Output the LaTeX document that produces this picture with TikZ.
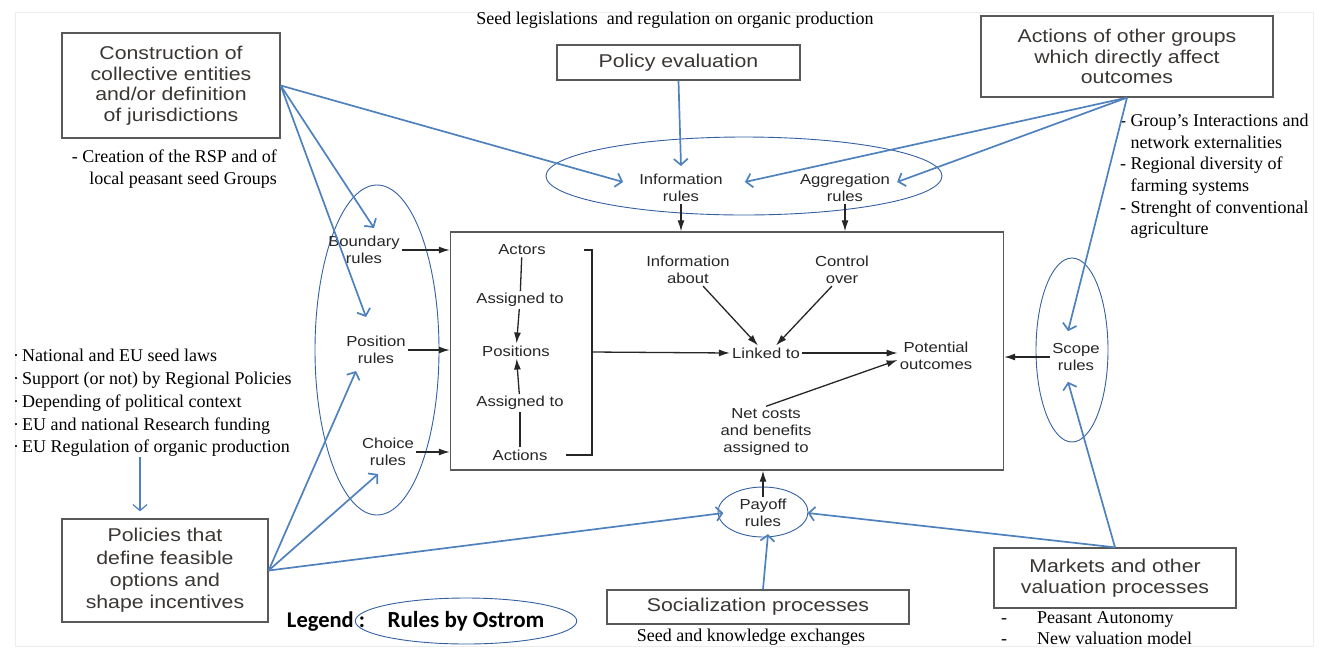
\documentclass[tikz,border=0pt]{standalone}
\usepackage{fontspec}
\setmainfont{Liberation Serif}
\newfontfamily\helv[FakeStretch=1.15]{Liberation Sans}
\newfontfamily\calib{Carlito}
\usetikzlibrary{arrows.meta,shapes.geometric}

\definecolor{arrblue}{RGB}{79,129,189}
\definecolor{ellblue}{RGB}{52,96,160}
\definecolor{boxtext}{RGB}{58,54,52}

\tikzset{
  procbox/.style={draw=black!65, line width=1.3pt, align=center, inner sep=0pt,
    text=boxtext, font=\helv\fontsize{18.5}{20.5}\selectfont},
  rulelbl/.style={align=center, inner sep=2pt, text=black!85,
    font=\helv\fontsize{14.5}{17}\selectfont},
  rulering/.style={draw=ellblue, line width=0.9pt, ellipse, inner sep=0pt},
  note/.style={inner sep=0pt, font=\fontsize{18}{21.6}\selectfont},
  bluearr/.style={draw=arrblue, line width=1.7pt, -{Straight Barb[length=6pt,width=14pt]}},
  blkarr/.style={draw=black!85, line width=1.3pt, -{Latex[length=11pt,width=7pt]}},
  blkline/.style={draw=black!85, line width=1.3pt},
}

\begin{document}
\begin{tikzpicture}[x=1pt,y=-1pt]
  \useasboundingbox (0,0) rectangle (1328,649);
  \draw[black!7, line width=1pt] (15,12) rectangle (1313,646);

  % boxes round the action arena
  \node[procbox, minimum width=218pt, minimum height=105pt] (construct) at (171,85.5)
    {Construction of\\collective entities\\and/or definition\\of jurisdictions};
  \node[procbox, minimum width=243pt, minimum height=35pt] (poleval) at (678.5,62.5) {Policy evaluation};
  \node[procbox, minimum width=292pt, minimum height=81pt] (othergroups) at (1127,56.5)
    {Actions of other groups\\which directly affect\\outcomes};
  \node[procbox, minimum width=206pt, minimum height=103pt, font=\helv\fontsize{18.5}{22.3}\selectfont] (policies) at (165,570.5)
    {Policies that\\define feasible\\options and\\shape incentives};
  \node[procbox, minimum width=302pt, minimum height=34pt] (social) at (758,607) {Socialization processes};
  \node[procbox, minimum width=242pt, minimum height=60pt] (markets) at (1115,578)
    {Markets and other\\valuation processes};

  % notes
  \node[note] (toptxt) at (675,20) {Seed legislations\ \ and regulation\ on organic production};
  \node[note, anchor=north east, align=right] (creation) at (277,150)
    {- Creation of the RSP and of\\local peasant seed Groups};
  \node[note, anchor=north west, align=left] (groupnote) at (1120,114)
    {- Group’s Interactions and\\\hphantom{- }network externalities\\- Regional diversity\ of\\\hphantom{- }farming systems\\- Strenght of conventional\\\hphantom{- }agriculture};
  \node[note, anchor=north west, align=left, font=\fontsize{18}{22.8}\selectfont] (laws) at (13,349)
    {\makebox[9pt][l]{·}National and EU seed laws\\\makebox[9pt][l]{·}Support (or not) by Regional\ Policies\\\makebox[9pt][l]{·}Depending\ of political\ context\\\makebox[9pt][l]{·}EU and national\ Research funding\\\makebox[9pt][l]{·}EU Regulation\ of organic production};
  \node[note] (exch) at (751,637) {Seed and knowledge\ exchanges};
  \node[note, anchor=north west, align=left] (valnote) at (1001,611)
    {\makebox[36pt][l]{-}Peasant Autonomy\\\makebox[36pt][l]{-}New valuation model};

  % action arena
  \node[draw=black!65, line width=1.4pt, minimum width=553pt, minimum height=238pt] (arena) at (727,351) {};
  \node[rulelbl] (actors) at (522,250) {Actors};
  \node[rulelbl] (asgA) at (520,300) {Assigned to};
  \node[rulelbl] (positions) at (516,351) {Positions};
  \node[rulelbl] (asgB) at (520,403) {Assigned to};
  \node[rulelbl] (actions) at (520,455) {Actions};
  \node[rulelbl] (infoabout) at (688,270) {Information\\about};
  \node[rulelbl] (control) at (842,270) {Control\\over};
  \node[rulelbl] (linked) at (766,353) {Linked to};
  \node[rulelbl] (potential) at (936,356) {Potential\\outcomes};
  \node[rulelbl] (netcost) at (766,432) {Net costs\\and benefits\\assigned to};

  \draw[blkline] (actors) -- (asgA);
  \draw[blkarr] (asgA) -- (positions);
  \draw[blkline] (actions) -- (asgB);
  \draw[blkarr] (asgB) -- (positions);
  \draw[blkline] ([xshift=36pt]actors.east) -| (592,455) -- ([xshift=16pt]actions.east);
  \draw[blkarr] (592,352) -- (linked.west);
  \draw[blkarr] ([xshift=15pt]infoabout.south) -- ([xshift=-8pt]linked.north);
  \draw[blkarr] ([xshift=-10pt]control.south) -- ([xshift=10pt]linked.north);
  \draw[blkarr] (linked.east) -- (potential.west |- linked.east);
  \draw[blkarr] (netcost.north) -- ([yshift=-4pt]potential.west);

  % rules by Ostrom
  \node[rulering, minimum width=396pt, minimum height=78pt] (topring) at (744,176) {};
  \node[rulering, minimum width=124pt, minimum height=330pt] (leftring) at (377,350) {};
  \node[rulering, minimum width=72pt, minimum height=184pt] (scopering) at (1072,350) {};
  \node[rulering, minimum width=90pt, minimum height=50pt] (payring) at (763,512) {};
  \node[rulelbl] (info) at (681,188) {Information\\rules};
  \node[rulelbl] (aggr) at (845,188) {Aggregation\\rules};
  \node[rulelbl] (boundary) at (364,250) {Boundary\\rules};
  \node[rulelbl] (position) at (376,350) {Position\\rules};
  \node[rulelbl] (choice) at (388,452) {Choice\\rules};
  \node[rulelbl] (scope) at (1076,357) {Scope\\rules};
  \node[rulelbl] (payoff) at (763,513) {Payoff\\rules};

  \draw[blkarr] (info.south) -- (info.south |- arena.north);
  \draw[blkarr] (aggr.south) -- (aggr.south |- arena.north);
  \draw[blkarr] (boundary.east) -- (boundary.east -| arena.west);
  \draw[blkarr] (position.east) -- (position.east -| arena.west);
  \draw[blkarr] (choice.east) -- (choice.east -| arena.west);
  \draw[blkarr] (scope.west) -- (scope.west -| arena.east);
  \draw[blkarr] (payoff.north) -- (payoff.north |- arena.south);

  % influences
  \draw[bluearr] (construct.east) -- ([xshift=-14pt,yshift=6pt]info.west);
  \draw[bluearr] (construct.east) -- ([xshift=10pt,yshift=6pt]boundary.north);
  \draw[bluearr] (construct.east) -- ([xshift=-10pt,yshift=17pt]position.north);
  \draw[bluearr] (policies.east) -- ([xshift=-20pt,yshift=-5pt]position.south);
  \draw[bluearr] (policies.east) -- ([xshift=-10pt,yshift=-6pt]choice.south);
  \draw[bluearr] (policies.east) -- ([xshift=-14pt]payoff.west);
  \draw[bluearr] (poleval.south) -- ([yshift=6pt]info.north);
  \draw[bluearr] (othergroups.south) -- ([xshift=20pt,yshift=6pt]info.east);
  \draw[bluearr] (othergroups.south) -- ([xshift=5pt,yshift=6pt]aggr.east);
  \draw[bluearr] (othergroups.south) -- ([xshift=-8pt,yshift=10pt]scope.north);
  \draw[bluearr] (markets.north) -- ([xshift=-8pt,yshift=-9pt]scope.south);
  \draw[bluearr] (markets.north) -- ([xshift=19pt]payoff.east);
  \draw[bluearr] ([xshift=5pt]social.north) -- ([xshift=5pt,yshift=-5pt]payoff.south);
  \draw[bluearr, line width=1.2pt] ([xshift=-25pt]policies.north |- laws.south) -- ([xshift=-25pt,yshift=7pt]policies.north);

  % legend
  \node[font=\calib\bfseries\fontsize{22.5}{24}\selectfont] (legtxt) at (326,622) {Legend :};
  \node[rulering, minimum width=192pt, minimum height=46pt, font=\calib\bfseries\fontsize{23}{24}\selectfont] (legring) at (466,621) {Rules by Ostrom};
\end{tikzpicture}
\end{document}
